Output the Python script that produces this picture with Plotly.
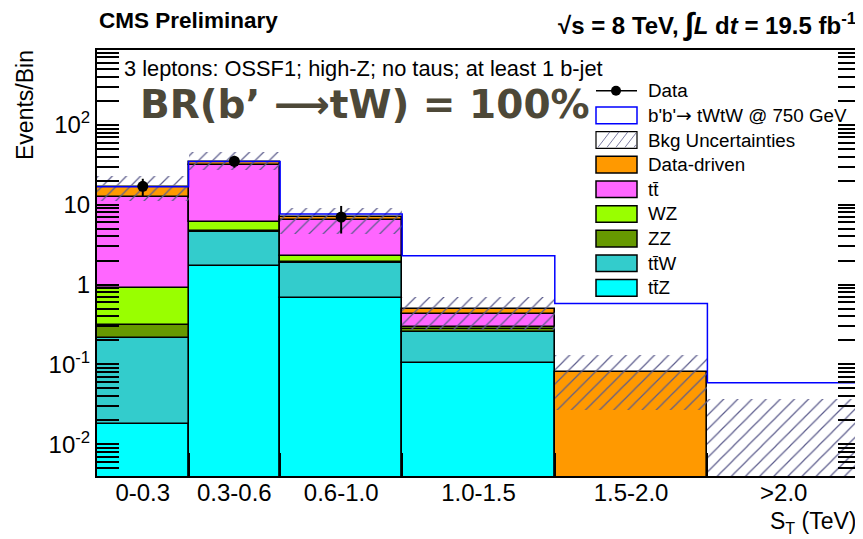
import numpy as np
import plotly.graph_objects as go

# ---------------- data ----------------
bin_labels = ["0-0.3", "0.3-0.6", "0.6-1.0", "1.0-1.5", "1.5-2.0", ">2.0"]
bin_edges = [0.0, 0.3, 0.6, 1.0, 1.5, 2.0, 2.5]

ttZ = [0.018, 1.69, 0.68, 0.105, 0.0, 0.0]
ttW = [0.193, 2.81, 1.19, 0.151, 0.0, 0.0]
ZZ = [0.096, 0.14, 0.03, 0.018, 0.0, 0.0]
WZ = [0.59, 1.36, 0.36, 0.022, 0.0, 0.0]
ttbar = [11.6, 25.0, 4.11, 0.134, 0.0, 0.0]
data_driven = [4.1, 3.5, 0.63, 0.057, 0.080, 0.0]

unc_low = [11.0, 27.5, 4.3, 0.27, 0.027, 0.0]
unc_high = [23.0, 46.0, 9.1, 0.70, 0.132, 0.037]

signal_total = [16.8, 34.8, 7.65, 2.3, 0.58, 0.059]

data_counts = [17, 35, 7, 0, 0, 0]

y_major = [0.01, 0.1, 1, 10, 100]
y_major_text = ["10<sup>-2</sup>", "10<sup>-1</sup>", "1", "10", "10<sup>2</sup>"]

# ---------------- style ----------------
series = [
    ("ttZ", ttZ, "#00ffff"),
    ("ttW", ttW, "#33cccc"),
    ("ZZ", ZZ, "#669900"),
    ("WZ", WZ, "#99ff00"),
    ("ttbar", ttbar, "#ff66ff"),
    ("Data-driven", data_driven, "#ff9900"),
]

FONT = "Liberation Sans"
OFF = 8  # browser body margin
W, H = 863 - OFF, 539 - OFF
L, R, T = 97 - OFF, 3, 50 - OFF
PW, PH = 763, 426
B = H - T - PH
FLOOR = 1e-3

edges = np.array(bin_edges)
centers = 0.5 * (edges[:-1] + edges[1:])
widths = np.diff(edges)

fig = go.Figure()

# stacked backgrounds (explicit bases)
bottom = np.zeros(len(centers))
for name, vals, col in series:
    v = np.array(vals, dtype=float)
    bs = [float(b) if b > 0 else FLOOR for b in bottom]
    ys = []
    for val, bt in zip(v, bottom):
        if val <= 0:
            ys.append(None)
        else:
            ys.append(float(val) if bt > 0 else float(val - FLOOR))
    fig.add_trace(go.Bar(
        x=centers, y=ys, base=bs, width=widths,
        marker=dict(color=col, line=dict(color="black", width=1.6)),
        name=name, showlegend=False, hoverinfo="skip",
    ))
    bottom = bottom + v

# signal outline (stacked on background)
sig_y = list(signal_total) + [signal_total[-1]]
fig.add_trace(go.Scatter(
    x=edges, y=sig_y, mode="lines", line=dict(color="#0000ff", width=1.5, shape="hv"),
    showlegend=False, hoverinfo="skip",
))

# background uncertainty hatch
lo = np.array(unc_low, dtype=float)
hi = np.array(unc_high, dtype=float)
lo_b = np.where(lo > 0, lo, FLOOR)
fig.add_trace(go.Bar(
    x=centers, y=hi - lo_b, base=lo_b, width=widths,
    marker=dict(color="rgba(0,0,0,0)", line=dict(width=0),
                pattern=dict(shape="/", fgcolor="#5c5c8c", bgcolor="rgba(0,0,0,0)",
                             size=10, solidity=0.12, fillmode="replace")),
    showlegend=False, hoverinfo="skip",
))

# data
dc = np.array(data_counts, dtype=float)
dy = [float(v) if v > 0 else None for v in dc]
derr = [float(np.sqrt(v)) if v > 0 else None for v in dc]
fig.add_trace(go.Scatter(
    x=centers, y=dy, mode="markers",
    marker=dict(color="black", size=11),
    error_y=dict(type="data", array=derr, color="black", thickness=2, width=0),
    showlegend=False, hoverinfo="skip",
))

# invisible trace so xaxis2 (bin labels) is drawn
fig.add_trace(go.Scatter(x=[centers[0]], y=[None], xaxis="x2", yaxis="y",
                         mode="markers", showlegend=False, hoverinfo="skip"))

# minor tick positions on the log axis (2..9 per decade)
minor_vals = [m * 10.0 ** e for e in range(-3, 3) for m in range(2, 10)]

# ---------------- axes ----------------
ymin, ymax = np.log10(0.004), 2.9375
fig.update_layout(
    width=W, height=H, margin=dict(l=L, r=R, t=T, b=B, autoexpand=False),
    paper_bgcolor="white", plot_bgcolor="white",
    barmode="overlay", bargap=0,
    font=dict(family=FONT, color="black", size=24),
    xaxis=dict(range=[0, 2.5], tickmode="array", tickvals=bin_edges[1:-1],
               ticks="inside", ticklen=23, tickwidth=2, tickcolor="black",
               showticklabels=False, showgrid=False, zeroline=False, automargin=False,
               showline=True, linecolor="black", linewidth=2, mirror=True),
    xaxis2=dict(range=[0, 2.5], overlaying="x", anchor="y", side="bottom",
                tickmode="array", tickvals=list(centers), ticktext=bin_labels,
                ticks="", showgrid=False, zeroline=False, showline=False, automargin=False,
                tickfont=dict(size=24, family=FONT)),
    yaxis=dict(type="log", range=[ymin, ymax], tickmode="array",
               tickvals=y_major, ticktext=y_major_text,
               ticks="inside", ticklen=22, tickwidth=2, tickcolor="black",
               minor=dict(tickmode="array", tickvals=minor_vals, ticks="inside", ticklen=11,
                          tickwidth=1.5, tickcolor="black", showgrid=False),
               showgrid=False, zeroline=False, showline=True, linecolor="black", automargin=False,
               linewidth=2, mirror="allticks", tickfont=dict(size=24, family=FONT)),
)


def px(x):
    return (x - OFF - L) / PW


def py(y):
    return (T + PH - (y - OFF)) / PH


ann = []
ann.append(dict(text="<b>CMS Preliminary</b>", x=px(97), y=py(20), xanchor="left", yanchor="middle",
                font=dict(size=22.5, family=FONT)))
ann.append(dict(text="<b>\u221as = 8 TeV, <span style=\"font-size:31px\">\u222b</span><i>L</i> d<i>t</i>"
                     " = 19.5 fb<sup>-1</sup></b>",
                x=px(858), y=py(23), xanchor="right", yanchor="middle", font=dict(size=24, family=FONT)))
ann.append(dict(text="3 leptons: OSSF1; high-Z; no taus; at least 1 b-jet", x=px(122), y=py(68),
                xanchor="left", yanchor="middle", font=dict(size=21.8, family=FONT)))
ann.append(dict(text="<b>BR(b\u2019 \u27f6tW) = 100%</b>", x=px(365), y=py(104), xanchor="center",
                yanchor="middle", font=dict(size=39, family="DejaVu Sans", color="#4d4838")))
ann.append(dict(text="Events/Bin", x=px(25), y=py(48), xanchor="center", yanchor="top",
                textangle=-90, font=dict(size=23, family=FONT)))
ann.append(dict(text="S<sub>T</sub> (TeV)", x=px(859), y=py(522), xanchor="right", yanchor="middle",
                font=dict(size=23, family=FONT)))

# legend (custom)
leg_names = ["Data", "b'b'<span style=\"font-family:'DejaVu Sans'\">\u2192</span> tWtW @ 750 GeV",
             "Bkg Uncertainties", "Data-driven",
             "tt\u0304", "WZ", "ZZ", "tt\u0304W", "tt\u0304Z"]
leg_colors = [None, None, None, "#ff9900", "#ff66ff", "#99ff00", "#669900", "#33cccc", "#00ffff"]
shapes = []
bx0, bx1 = 596, 637
for i, (nm, col) in enumerate(zip(leg_names, leg_colors)):
    yc = 90.7 + i * 24.65
    ann.append(dict(text=nm, x=px(646), y=py(yc), xanchor="left", yanchor="middle",
                    font=dict(size=18.8, family=FONT)))
    y0, y1 = yc - 8.3, yc + 8.3
    if i == 0:
        shapes.append(dict(type="line", xref="paper", yref="paper", x0=px(bx0), x1=px(bx1),
                           y0=py(yc), y1=py(yc), line=dict(color="black", width=1.5)))
        shapes.append(dict(type="circle", xref="paper", yref="paper", x0=px(611), x1=px(621),
                           y0=py(yc + 5), y1=py(yc - 5), fillcolor="black", line=dict(width=0)))
    elif i == 1:
        shapes.append(dict(type="rect", xref="paper", yref="paper", x0=px(bx0), x1=px(bx1),
                           y0=py(y1), y1=py(y0), fillcolor="white", line=dict(color="#0000ff", width=1.5)))
    elif i == 2:
        shapes.append(dict(type="rect", xref="paper", yref="paper", x0=px(bx0), x1=px(bx1),
                           y0=py(y1), y1=py(y0), fillcolor="white", line=dict(color="black", width=1.2)))
        for k in range(5):
            xa = bx0 + 2 + k * 9
            xb = min(xa + 12, bx1 - 1)
            shapes.append(dict(type="line", xref="paper", yref="paper", x0=px(xa), x1=px(xb),
                               y0=py(y1 - 1), y1=py(y1 - 1 - (xb - xa) * 1.3),
                               line=dict(color="#5c5c8c", width=0.8)))
    else:
        shapes.append(dict(type="rect", xref="paper", yref="paper", x0=px(bx0), x1=px(bx1),
                           y0=py(y1), y1=py(y0), fillcolor=col, line=dict(color="black", width=1.5)))

for a in ann:
    a.setdefault("xref", "paper")
    a.setdefault("yref", "paper")
    a["showarrow"] = False
fig.update_layout(annotations=ann, shapes=shapes)

fig.write_html("out.html")
